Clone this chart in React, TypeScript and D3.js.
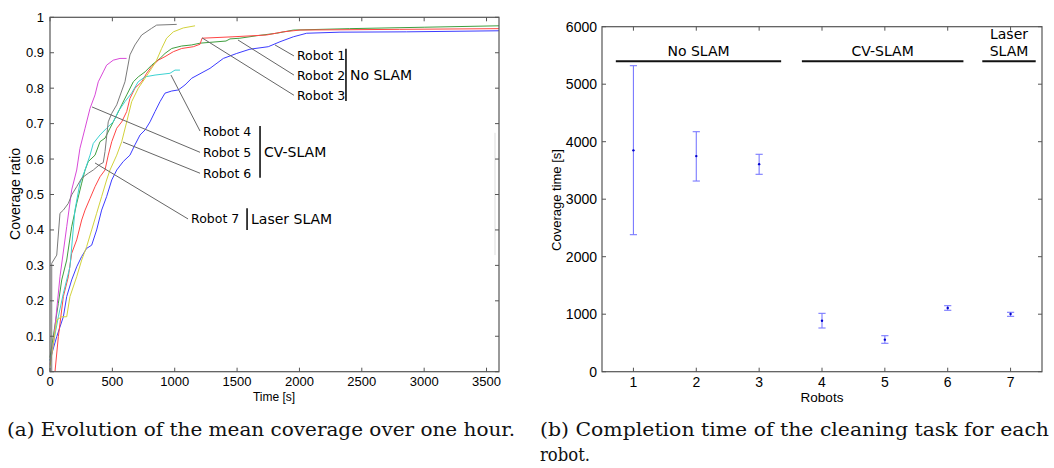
import { scaleLinear, line, range } from "d3";

// coverage curves, [time s, coverage ratio]
const robot1: [number, number][] = [
  [0, 0.033], [54, 0.099], [107, 0.155], [134, 0.212], [174, 0.259], [214, 0.296], [254, 0.325],
  [294, 0.348], [334, 0.357], [374, 0.4], [414, 0.456], [454, 0.494], [495, 0.541], [535, 0.569],
  [587, 0.593], [641, 0.611], [681, 0.64], [722, 0.668], [762, 0.682], [802, 0.705], [842, 0.734],
  [882, 0.762], [922, 0.786], [976, 0.792], [1029, 0.795], [1082, 0.809], [1136, 0.828], [1283, 0.856],
  [1390, 0.884], [1497, 0.898], [1603, 0.91], [1750, 0.917], [1844, 0.931], [1951, 0.945],
  [2058, 0.955], [2325, 0.958], [2860, 0.959], [3600, 0.962],
];
const robot2: [number, number][] = [
  [0, 0.04], [67, 0.193], [94, 0.259], [134, 0.315], [174, 0.409], [214, 0.475], [254, 0.532],
  [281, 0.569], [307, 0.593], [361, 0.611], [401, 0.649], [441, 0.659], [481, 0.687], [535, 0.724],
  [575, 0.753], [615, 0.781], [668, 0.818], [708, 0.832], [762, 0.846], [815, 0.865], [882, 0.884],
  [922, 0.898], [976, 0.912], [1056, 0.919], [1136, 0.922], [1203, 0.927], [1411, 0.933],
  [1443, 0.939], [1523, 0.941], [1657, 0.948], [1817, 0.955], [1951, 0.964], [2400, 0.968],
  [3000, 0.972], [3600, 0.976],
];
const robot3: [number, number][] = [
  [40, 0], [67, 0.099], [107, 0.212], [147, 0.268], [174, 0.334], [214, 0.372], [254, 0.428],
  [281, 0.456], [321, 0.489], [361, 0.522], [401, 0.55], [441, 0.569], [467, 0.611], [495, 0.649],
  [535, 0.687], [575, 0.705], [615, 0.734], [641, 0.771], [681, 0.8], [735, 0.818], [775, 0.842],
  [815, 0.861], [868, 0.879], [922, 0.889], [989, 0.903], [1056, 0.912], [1149, 0.917],
  [1203, 0.924], [1219, 0.941], [1467, 0.945], [1735, 0.95], [1870, 0.959], [2004, 0.964],
  [2800, 0.966], [3600, 0.968],
];
const robot4: [number, number][] = [
  [0, 0.03], [67, 0.155], [107, 0.221], [160, 0.296], [200, 0.456], [240, 0.532], [281, 0.569],
  [321, 0.611], [347, 0.644], [401, 0.668], [454, 0.687], [507, 0.705], [547, 0.734], [601, 0.762],
  [654, 0.786], [707, 0.818], [762, 0.832], [842, 0.837], [962, 0.842], [1002, 0.851], [1042, 0.851],
];
const robot5: [number, number][] = [
  [0, 0.02], [27, 0.08], [80, 0.268], [134, 0.409], [174, 0.513], [214, 0.569], [240, 0.63],
  [281, 0.687], [321, 0.743], [361, 0.781], [387, 0.818], [427, 0.846], [454, 0.865], [507, 0.879],
  [561, 0.884], [614, 0.884],
];
const robot6: [number, number][] = [
  [0, 0.014], [27, 0.08], [54, 0.146], [94, 0.155], [134, 0.155], [160, 0.212], [214, 0.268],
  [254, 0.315], [294, 0.353], [334, 0.4], [374, 0.447], [414, 0.494], [454, 0.541], [481, 0.569],
  [535, 0.611], [575, 0.649], [615, 0.705], [655, 0.762], [708, 0.8], [762, 0.828], [815, 0.856],
  [855, 0.879], [895, 0.912], [935, 0.941], [989, 0.959], [1069, 0.97], [1163, 0.976],
];
const robot7: [number, number][] = [
  [14, 0], [14, 0.306], [54, 0.329], [80, 0.447], [107, 0.456], [147, 0.475], [174, 0.499],
  [214, 0.522], [254, 0.546], [307, 0.56], [347, 0.569], [400, 0.585], [427, 0.59], [441, 0.621],
  [467, 0.705], [495, 0.729], [535, 0.753], [601, 0.818], [641, 0.894], [681, 0.922], [735, 0.95],
  [815, 0.969], [855, 0.978], [1016, 0.98],
];

const curves = [robot1, robot2, robot3, robot4, robot5, robot6, robot7];
const curveColors = ["#3c3cff", "#3f9f3f", "#ff4545", "#3cd2d2", "#d94ad9", "#d2d23c", "#7a7a7a"];
const robotNames = ["Robot 1", "Robot 2", "Robot 3", "Robot 4", "Robot 5", "Robot 6", "Robot 7"];
// where each leader line touches its curve [time, coverage]
const leaderAnchors: [number, number][] = [
  [1804, 0.922], [1507, 0.936], [1219, 0.942], [970, 0.837], [337, 0.747], [585, 0.648], [361, 0.589],
];
// label start, [time, coverage]
const labelSpots: [number, number][] = [
  [1980, 0.891], [1980, 0.837], [1980, 0.78], [1227, 0.679], [1227, 0.619], [1227, 0.56], [1131, 0.431],
];
// group brackets on the left chart: time, top, bottom
const brackets = [
  { name: "No SLAM", t: 2373, top: 0.911, bottom: 0.764 },
  { name: "CV-SLAM", t: 1684, top: 0.693, bottom: 0.547 },
  { name: "Laser SLAM", t: 1580, top: 0.461, bottom: 0.4 },
];

const timeTicks = range(0, 3501, 500);
const ratioTicks = range(0, 11).map((d) => d / 10);

// completion time per robot
const robotIds = [1, 2, 3, 4, 5, 6, 7];
const meanTime = [3850, 3750, 3610, 887, 557, 1108, 1003];
const lowTime = [2383, 3316, 3433, 760, 494, 1068, 963];
const highTime = [5322, 4174, 3781, 1015, 626, 1148, 1033];
const timeAxisTicks = [0, 1000, 2000, 3000, 4000, 5000, 6000];
const groupSpans = [
  { lines: ["No SLAM"], from: 0.72, to: 3.35 },
  { lines: ["CV-SLAM"], from: 3.68, to: 6.25 },
  { lines: ["Laser", "SLAM"], from: 6.55, to: 7.4 },
];

const axisColor = "#555";
const sans = "'Liberation Sans', Arial, sans-serif";
const dejavu = "'DejaVu Sans', sans-serif";

function CoverageChart() {
  const x = scaleLinear().domain([0, 3600]).range([50, 499]);
  const y = scaleLinear().domain([0, 1]).range([371.7, 17.3]);
  const path = line<[number, number]>()
    .x((d) => x(d[0]))
    .y((d) => y(d[1]));

  return (
    <g>
      {/* faint stray line near the right edge */}
      <line x1={x(3568)} x2={x(3568)} y1={y(0.674)} y2={y(0.329)} stroke="#ddd" />
      {curves.map((c, i) => (
        <path key={i} d={path(c) ?? ""} fill="none" stroke={curveColors[i]} strokeWidth={1} />
      ))}
      <rect x={50} y={17.3} width={449} height={354.4} fill="none" stroke={axisColor} strokeWidth={1.2} />
      {timeTicks.map((t) => (
        <g key={t}>
          <line x1={x(t)} x2={x(t)} y1={371.7} y2={367.7} stroke={axisColor} />
          <line x1={x(t)} x2={x(t)} y1={17.3} y2={21.3} stroke={axisColor} />
          <text x={x(t)} y={386} textAnchor="middle" fontFamily={sans} fontSize={13}>
            {t}
          </text>
        </g>
      ))}
      {ratioTicks.map((r) => (
        <g key={r}>
          <line x1={50} x2={54} y1={y(r)} y2={y(r)} stroke={axisColor} />
          <line x1={499} x2={495} y1={y(r)} y2={y(r)} stroke={axisColor} />
          <text x={44} y={y(r) + 4.5} textAnchor="end" fontFamily={sans} fontSize={13}>
            {r}
          </text>
        </g>
      ))}
      <text x={274} y={401} textAnchor="middle" fontFamily={sans} fontSize={12}>
        Time [s]
      </text>
      <text transform="translate(20,194) rotate(-90)" textAnchor="middle" fontFamily={sans} fontSize={14}>
        Coverage ratio
      </text>
      {leaderAnchors.map((a, i) => (
        <g key={i}>
          <line
            x1={x(a[0])}
            y1={y(a[1])}
            x2={x(labelSpots[i][0]) - 3}
            y2={y(labelSpots[i][1])}
            stroke="#666"
            strokeWidth={1}
          />
          <text x={x(labelSpots[i][0])} y={y(labelSpots[i][1]) + 4.5} fontFamily={dejavu} fontSize={12.5}>
            {robotNames[i]}
          </text>
        </g>
      ))}
      {brackets.map((b) => (
        <g key={b.name}>
          <line x1={x(b.t)} x2={x(b.t)} y1={y(b.top)} y2={y(b.bottom)} stroke="#111" strokeWidth={1.6} />
          <text x={x(b.t) + 4} y={y((b.top + b.bottom) / 2) + 5} fontFamily={dejavu} fontSize={14}>
            {b.name}
          </text>
        </g>
      ))}
    </g>
  );
}

function CompletionChart() {
  const x = scaleLinear().domain([0.5, 7.5]).range([602, 1042]);
  const y = scaleLinear().domain([0, 6000]).range([371.7, 26.7]);
  const cap = 3.6;

  return (
    <g>
      <rect x={602} y={26.7} width={440} height={345} fill="none" stroke={axisColor} strokeWidth={1.2} />
      {robotIds.map((r) => (
        <g key={r}>
          <line x1={x(r)} x2={x(r)} y1={371.7} y2={367.7} stroke={axisColor} />
          <line x1={x(r)} x2={x(r)} y1={26.7} y2={30.7} stroke={axisColor} />
          <text x={x(r)} y={387} textAnchor="middle" fontFamily={sans} fontSize={14}>
            {r}
          </text>
        </g>
      ))}
      {timeAxisTicks.map((t) => (
        <g key={t}>
          <line x1={602} x2={606} y1={y(t)} y2={y(t)} stroke={axisColor} />
          <line x1={1042} x2={1038} y1={y(t)} y2={y(t)} stroke={axisColor} />
          <text x={597} y={y(t) + 5} textAnchor="end" fontFamily={sans} fontSize={14}>
            {t}
          </text>
        </g>
      ))}
      <text x={822} y={402} textAnchor="middle" fontFamily={sans} fontSize={13.5}>
        Robots
      </text>
      <text transform="translate(561,200) rotate(-90)" textAnchor="middle" fontFamily={sans} fontSize={13}>
        Coverage time [s]
      </text>
      {robotIds.map((r, i) => (
        <g key={r} stroke="#7a7aff" strokeWidth={1.1}>
          <line x1={x(r)} x2={x(r)} y1={y(lowTime[i])} y2={y(highTime[i])} />
          <line x1={x(r) - cap} x2={x(r) + cap} y1={y(lowTime[i])} y2={y(lowTime[i])} />
          <line x1={x(r) - cap} x2={x(r) + cap} y1={y(highTime[i])} y2={y(highTime[i])} />
          <circle cx={x(r)} cy={y(meanTime[i])} r={1.2} fill="#0000cc" stroke="none" />
        </g>
      ))}
      {groupSpans.map((g) => (
        <g key={g.lines.join(" ")}>
          <line x1={x(g.from)} x2={x(g.to)} y1={y(5400)} y2={y(5400)} stroke="#111" strokeWidth={2} />
          {g.lines.map((l, j) => (
            <text
              key={l}
              x={x((g.from + g.to) / 2)}
              y={y(5400) - 5 - (g.lines.length - 1 - j) * 17}
              textAnchor="middle"
              fontFamily={dejavu}
              fontSize={14}
            >
              {l}
            </text>
          ))}
        </g>
      ))}
    </g>
  );
}

export default function App() {
  return (
    <div style={{ position: "absolute", left: 0, top: 0 }}>
      <svg width={1054} height={468} style={{ display: "block", background: "#fff" }}>
        <CoverageChart />
        <CompletionChart />
        <g fontFamily="'DejaVu Serif', serif" fontSize={18} fill="#111">
          <text x={7} y={436} textLength={508} lengthAdjust="spacingAndGlyphs">
            (a) Evolution of the mean coverage over one hour.
          </text>
          <text x={540} y={436} textLength={509} lengthAdjust="spacingAndGlyphs">
            (b) Completion time of the cleaning task for each
          </text>
          <text x={540} y={461} textLength={50} lengthAdjust="spacingAndGlyphs">
            robot.
          </text>
        </g>
      </svg>
    </div>
  );
}
